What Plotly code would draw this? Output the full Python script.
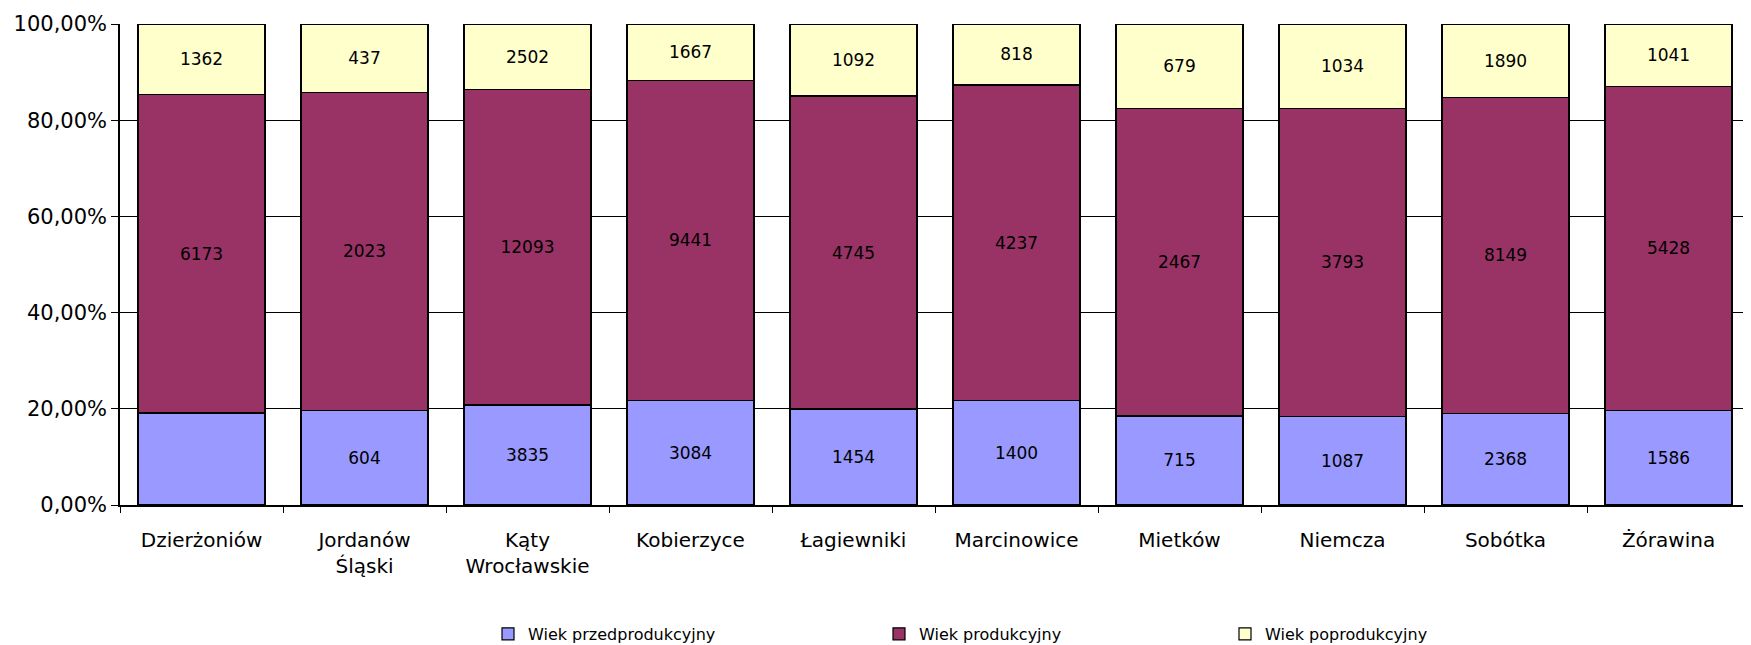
import plotly.graph_objects as go

# gminy
categories = [
    "Dzierżoniów", "Jordanów<br>Śląski", "Kąty<br>Wrocławskie", "Kobierzyce",
    "Łagiewniki", "Marcinowice", "Mietków", "Niemcza", "Sobótka", "Żórawina",
]

# liczba mieszkańców wg grup wieku
przedprodukcyjny = [1780, 604, 3835, 3084, 1454, 1400, 715, 1087, 2368, 1586]
produkcyjny = [6173, 2023, 12093, 9441, 4745, 4237, 2467, 3793, 8149, 5428]
poprodukcyjny = [1362, 437, 2502, 1667, 1092, 818, 679, 1034, 1890, 1041]

# the first blue segment has no label in the source chart
przed_labels = [""] + [str(v) for v in przedprodukcyjny[1:]]

y_ticks = [0, 20, 40, 60, 80, 100]
y_ticktext = ["0,00%", "20,00%", "40,00%", "60,00%", "80,00%", "100,00%"]

FONT = "DejaVu Sans, Arial, sans-serif"

series = [
    ("Wiek przedprodukcyjny", przedprodukcyjny, przed_labels, "#9999FF", "legend"),
    ("Wiek produkcyjny", produkcyjny, [str(v) for v in produkcyjny], "#993366", "legend2"),
    ("Wiek poprodukcyjny", poprodukcyjny, [str(v) for v in poprodukcyjny], "#FFFFCC", "legend3"),
]

fig = go.Figure()

for name, values, labels, colour, leg in series:
    fig.add_trace(go.Bar(
        x=categories,
        y=values,
        name=name,
        text=labels,
        textposition="inside",
        insidetextanchor="middle",
        textangle=0,
        textfont=dict(color="black", size=17, family=FONT),
        marker=dict(color=colour, line=dict(color="black", width=1.2)),
        legend=leg,
        showlegend=True,
    ))

legend_base = dict(
    orientation="h",
    y=-0.268,
    yanchor="middle",
    xanchor="left",
    bgcolor="rgba(0,0,0,0)",
    font=dict(size=16, family=FONT, color="black"),
)

# page body has an 8px margin, so the figure is shrunk to fit the window
fig.update_layout(
    barmode="stack",
    barnorm="percent",
    bargap=0.22,
    showlegend=True,
    plot_bgcolor="white",
    paper_bgcolor="white",
    font=dict(family=FONT, color="black"),
    width=1743,
    height=637,
    margin=dict(l=112, r=1, t=16, b=140, autoexpand=False),
    legend=dict(legend_base, x=(488 - 120) / 1630),
    legend2=dict(legend_base, x=(879 - 120) / 1630),
    legend3=dict(legend_base, x=(1225 - 120) / 1630),
)

fig.update_yaxes(
    range=[0, 100],
    tickvals=y_ticks,
    ticktext=y_ticktext,
    showgrid=True,
    gridcolor="black",
    gridwidth=1,
    showline=True,
    linecolor="black",
    linewidth=1.5,
    ticks="outside",
    ticklen=7,
    tickcolor="black",
    tickfont=dict(size=21, family=FONT),
    zeroline=False,
    automargin=False,
)

fig.update_xaxes(
    showline=True,
    linecolor="black",
    linewidth=1.5,
    ticks="outside",
    tickson="boundaries",
    ticklen=6,
    tickcolor="black",
    tickfont=dict(size=20, family=FONT),
    ticklabelstandoff=16,
    showgrid=False,
    automargin=False,
)

fig.write_html("out.html")
